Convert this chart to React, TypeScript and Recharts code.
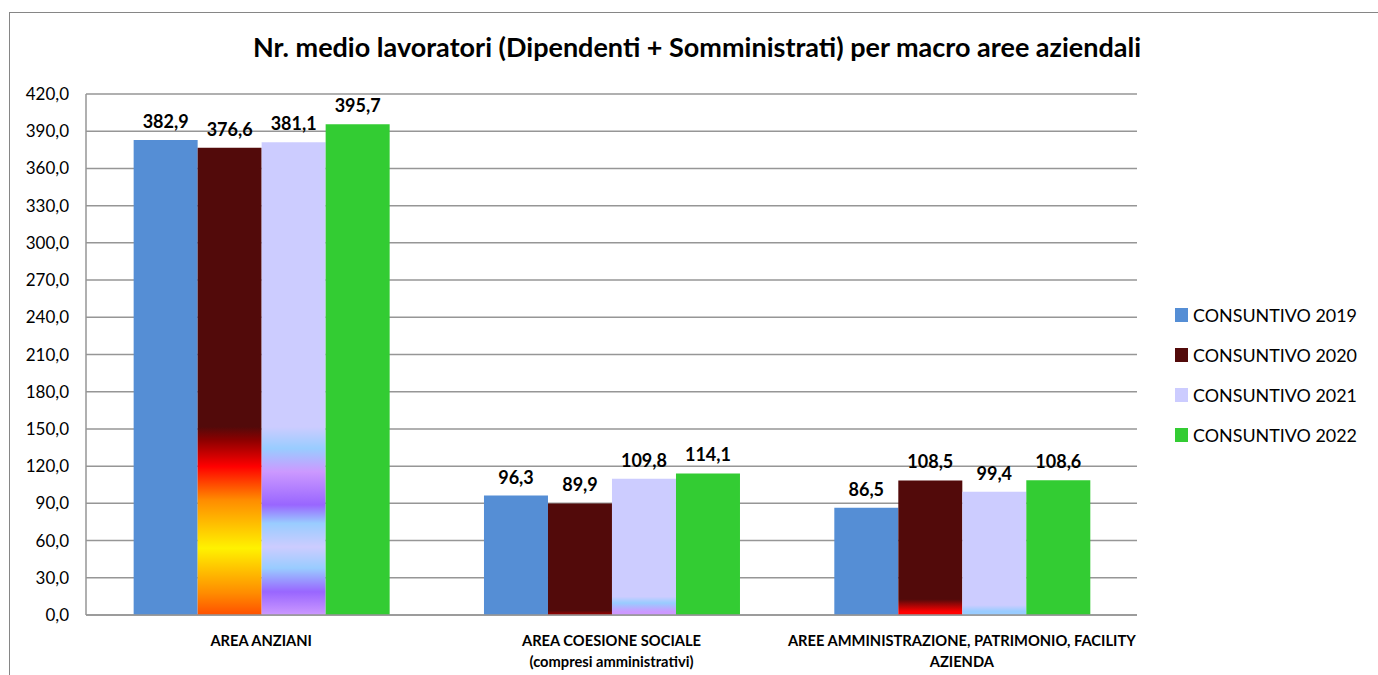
import React from "react";
import { BarChart, Bar, XAxis, YAxis, CartesianGrid, LabelList, Cell, Legend } from "recharts";

const categories = [
  "AREA ANZIANI",
  "AREA COESIONE SOCIALE\n(compresi amministrativi)",
  "AREE AMMINISTRAZIONE, PATRIMONIO, FACILITY\nAZIENDA",
];
const consuntivo2019 = [382.9, 96.3, 86.5];
const consuntivo2020 = [376.6, 89.9, 108.5];
const consuntivo2021 = [381.1, 109.8, 99.4];
const consuntivo2022 = [395.7, 114.1, 108.6];
const yTicks = [0, 30, 60, 90, 120, 150, 180, 210, 240, 270, 300, 330, 360, 390, 420];
const seriesNames = ["CONSUNTIVO 2019", "CONSUNTIVO 2020", "CONSUNTIVO 2021", "CONSUNTIVO 2022"];
const seriesKeys = ["c2019", "c2020", "c2021", "c2022"];
const seriesColors = ["#558ED5", "#520A0A", "#CCCCFF", "#33CC33"];

const data = categories.map((name, i) => ({
  name,
  c2019: consuntivo2019[i],
  c2020: consuntivo2020[i],
  c2021: consuntivo2021[i],
  c2022: consuntivo2022[i],
}));

const FONT = "Lato, 'Open Sans', sans-serif";
const fmt = (v: number) => v.toFixed(1).replace(".", ",");

const XTick = (props: any) => {
  const { x, y, payload } = props;
  const lines = String(payload.value).split("\n");
  return (
    <text x={x} y={y} textAnchor="middle" fontFamily={FONT} fontSize={14.7} fontWeight={700} fill="#000">
      {lines.map((l, i) => (
        <tspan key={i} x={x} dy={i === 0 ? 29 : 21}>
          {l}
        </tspan>
      ))}
    </text>
  );
};

const LegendContent = () => (
  <div style={{ fontFamily: FONT, fontSize: 17.9, color: "#000" }}>
    {seriesNames.map((n, i) => (
      <div key={n} style={{ height: 40, display: "flex", alignItems: "center" }}>
        <span style={{ width: 13, height: 14, background: seriesColors[i], display: "inline-block", marginRight: 5 }} />
        <span>{n}</span>
      </div>
    ))}
  </div>
);

const Gradients = () => (
  <svg width={0} height={0} style={{ position: "absolute" }}>
    <defs>
      <linearGradient id="g2020a" x1="0" y1="0" x2="0" y2="1">
        <stop offset="0" stopColor="#520A0A" />
        <stop offset="0.597" stopColor="#520A0A" />
        <stop offset="0.625" stopColor="#8B0000" />
        <stop offset="0.682" stopColor="#FF0000" />
        <stop offset="0.754" stopColor="#FF8C00" />
        <stop offset="0.857" stopColor="#FFF200" />
        <stop offset="0.953" stopColor="#FF8C00" />
        <stop offset="1" stopColor="#FF5000" />
      </linearGradient>
      <linearGradient id="g2021a" x1="0" y1="0" x2="0" y2="1">
        <stop offset="0" stopColor="#CCCCFF" />
        <stop offset="0.602" stopColor="#CCCCFF" />
        <stop offset="0.648" stopColor="#99CCFF" />
        <stop offset="0.697" stopColor="#CC99FF" />
        <stop offset="0.767" stopColor="#9966FF" />
        <stop offset="0.806" stopColor="#99CCFF" />
        <stop offset="0.856" stopColor="#CCCCFF" />
        <stop offset="0.901" stopColor="#99CCFF" />
        <stop offset="0.951" stopColor="#9966FF" />
        <stop offset="1" stopColor="#CC99FF" />
      </linearGradient>
      <linearGradient id="g2020b" x1="0" y1="0" x2="0" y2="1">
        <stop offset="0" stopColor="#520A0A" />
        <stop offset="0.96" stopColor="#520A0A" />
        <stop offset="1" stopColor="#A00000" />
      </linearGradient>
      <linearGradient id="g2021b" x1="0" y1="0" x2="0" y2="1">
        <stop offset="0" stopColor="#CCCCFF" />
        <stop offset="0.865" stopColor="#CCCCFF" />
        <stop offset="0.912" stopColor="#99CCFF" />
        <stop offset="0.976" stopColor="#CC99FF" />
        <stop offset="1" stopColor="#CC99FF" />
      </linearGradient>
      <linearGradient id="g2020c" x1="0" y1="0" x2="0" y2="1">
        <stop offset="0" stopColor="#520A0A" />
        <stop offset="0.883" stopColor="#520A0A" />
        <stop offset="0.976" stopColor="#FF0000" />
        <stop offset="1" stopColor="#FF0000" />
      </linearGradient>
      <linearGradient id="g2021c" x1="0" y1="0" x2="0" y2="1">
        <stop offset="0" stopColor="#CCCCFF" />
        <stop offset="0.92" stopColor="#CCCCFF" />
        <stop offset="0.97" stopColor="#99CCFF" />
        <stop offset="1" stopColor="#99CCFF" />
      </linearGradient>
    </defs>
  </svg>
);

const fills2020 = ["url(#g2020a)", "url(#g2020b)", "url(#g2020c)"];
const fills2021 = ["url(#g2021a)", "url(#g2021b)", "url(#g2021c)"];

export default function App() {
  return (
    <div style={{ position: "absolute", left: 0, top: 0, width: 1378, height: 675, overflow: "hidden", background: "#fff" }}>
      <Gradients />
      <div style={{ position: "absolute", left: 9, top: 12, width: 1420, height: 720, border: "1px solid #868686" }} />
      <div
        style={{
          position: "absolute",
          left: 0,
          top: 30,
          width: 1394,
          textAlign: "center",
          fontFamily: FONT,
          fontWeight: 700,
          fontSize: 27,
          color: "#000",
        }}
      >
        Nr. medio lavoratori (Dipendenti + Somministrati) per macro aree aziendali
      </div>
      <div style={{ position: "absolute", left: 0, top: 0 }}>
        <BarChart
          width={1378}
          height={675}
          data={data}
          margin={{ top: 94, right: 241, bottom: 0, left: 0 }}
          barCategoryGap="13.6%"
          barGap={0}
        >
          <CartesianGrid vertical={false} stroke="#969696" strokeWidth={1.5} />
          <XAxis
            dataKey="name"
            tick={<XTick />}
            tickLine={false}
            axisLine={{ stroke: "#969696", strokeWidth: 1.5 }}
            height={60}
            interval={0}
            tickSize={0}
          />
          <YAxis
            domain={[0, 420]}
            ticks={yTicks}
            tickFormatter={fmt}
            tickLine={false}
            tickSize={0}
            tickMargin={17}
            width={86}
            interval={0}
            axisLine={{ stroke: "#969696", strokeWidth: 1.5 }}
            tick={{ fontFamily: FONT, fontSize: 17, fill: "#000" }}
          />
          <Legend
            layout="horizontal"
            align="center"
            verticalAlign="middle"
            content={<LegendContent />}
            wrapperStyle={{ position: "absolute", left: 1175, top: 295, width: 200, height: 170 }}
          />
          {seriesKeys.map((k, si) => (
            <Bar key={k} dataKey={k} name={seriesNames[si]} fill={seriesColors[si]} isAnimationActive={false}>
              {si === 1 && data.map((_, i) => <Cell key={i} fill={fills2020[i]} />)}
              {si === 2 && data.map((_, i) => <Cell key={i} fill={fills2021[i]} />)}
              <LabelList
                dataKey={k}
                position="top"
                offset={12}
                formatter={(v: any) => fmt(Number(v))}
                style={{ fontFamily: FONT, fontSize: 18, fontWeight: 700, fill: "#000" }}
              />
            </Bar>
          ))}
        </BarChart>
      </div>
    </div>
  );
}
